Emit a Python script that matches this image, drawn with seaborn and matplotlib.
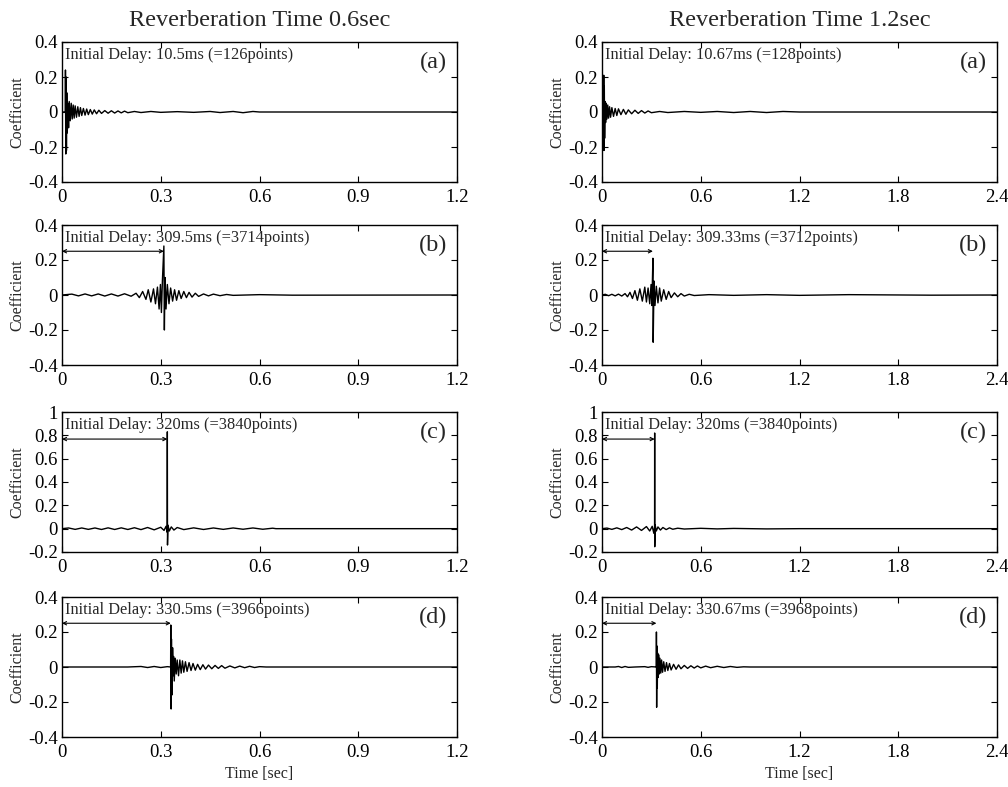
import matplotlib
matplotlib.use("Agg")
import matplotlib.pyplot as plt
import seaborn as sns

# Column titles, panel tags and delay notes
COLUMN_TITLES = ["Reverberation Time 0.6sec", "Reverberation Time 1.2sec"]
PANEL_TAGS = ["(a)", "(b)", "(c)", "(d)"]
NOTES_06 = [
    "Initial Delay: 10.5ms (=126points)",
    "Initial Delay: 309.5ms (=3714points)",
    "Initial Delay: 320ms (=3840points)",
    "Initial Delay: 330.5ms (=3966points)",
]
NOTES_12 = [
    "Initial Delay: 10.67ms (=128points)",
    "Initial Delay: 309.33ms (=3712points)",
    "Initial Delay: 320ms (=3840points)",
    "Initial Delay: 330.67ms (=3968points)",
]
# initial delay in sec (arrow length), None = no arrow
DELAYS_06 = [None, 0.3095, 0.320, 0.3305]
DELAYS_12 = [None, 0.30933, 0.320, 0.33067]

XTICKS_06 = [0, 0.3, 0.6, 0.9, 1.2]
XLABELS_06 = ["0", "0.3", "0.6", "0.9", "1.2"]
XTICKS_12 = [0, 0.6, 1.2, 1.8, 2.4]
XLABELS_12 = ["0", "0.6", "1.2", "1.8", "2.4"]
YTICKS_SMALL = [-0.4, -0.2, 0, 0.2, 0.4]
YLABELS_SMALL = ["-0.4", "-0.2", "0", "0.2", "0.4"]
YTICKS_BIG = [-0.2, 0, 0.2, 0.4, 0.6, 0.8, 1]
YLABELS_BIG = ["-0.2", "0", "0.2", "0.4", "0.6", "0.8", "1"]

# waveform peaks (time [sec], coefficient)
T06_A_TIME = [0, 0.0100, 0.0105, 0.0115, 0.0125, 0.0135, 0.0145, 0.016, 0.018, 0.020, 0.022, 0.025,
              0.028, 0.031, 0.034, 0.037, 0.040, 0.044, 0.048, 0.052, 0.056, 0.060, 0.065, 0.070,
              0.075, 0.080, 0.086, 0.092, 0.098, 0.105, 0.112, 0.12, 0.13, 0.14, 0.15, 0.16, 0.17,
              0.18, 0.19, 0.20, 0.22, 0.24, 0.27, 0.30, 0.35, 0.40, 0.45, 0.48, 0.52, 0.55, 0.58,
              0.60, 1.2]
T06_A_COEF = [0, 0, 0.24, -0.24, 0.20, -0.22, 0.11, -0.12, 0.05, -0.09, 0.06, -0.05,
              0.05, -0.04, 0.04, -0.035, 0.035, -0.03, 0.03, -0.025, 0.025, -0.02, 0.02, -0.018,
              0.017, -0.015, 0.014, -0.012, 0.012, -0.01, 0.01, -0.008, 0.008, -0.007, 0.007, -0.006, 0.006,
              -0.005, 0.005, -0.004, 0.003, -0.003, 0.003, -0.002, 0.002, -0.002, 0.003, -0.003, 0.003, -0.004, 0.003,
              0, 0]

T06_B_TIME = [0, 0.03, 0.05, 0.07, 0.09, 0.11, 0.13, 0.15, 0.17, 0.19, 0.21, 0.225, 0.235, 0.245,
              0.255, 0.262, 0.27, 0.278, 0.284, 0.29, 0.295, 0.299, 0.302, 0.305, 0.3095, 0.311,
              0.313, 0.316, 0.32, 0.325, 0.33, 0.336, 0.342, 0.348, 0.355, 0.362, 0.37, 0.378,
              0.386, 0.395, 0.405, 0.415, 0.43, 0.445, 0.46, 0.48, 0.50, 0.52, 0.6, 0.7, 1.2]
T06_B_COEF = [0, 0.005, -0.005, 0.006, -0.005, 0.006, -0.006, 0.006, -0.006, 0.007, -0.007, 0.01, -0.015, 0.02,
              -0.025, 0.03, -0.04, 0.035, -0.05, 0.045, -0.08, 0.06, -0.1, 0.08, 0.28, -0.2,
              0.1, -0.08, 0.06, -0.05, 0.04, -0.035, 0.03, -0.03, 0.025, -0.02, 0.02, -0.015,
              0.015, -0.012, 0.01, -0.008, 0.006, -0.005, 0.005, -0.004, 0.003, -0.002, 0.002, -0.001, 0]

T06_C_TIME = [0, 0.02, 0.04, 0.06, 0.08, 0.10, 0.12, 0.14, 0.16, 0.18, 0.20, 0.22, 0.24, 0.26,
              0.28, 0.30, 0.31, 0.316, 0.3195, 0.32, 0.3205, 0.322, 0.326, 0.332, 0.34, 0.35,
              0.37, 0.40, 0.43, 0.46, 0.49, 0.52, 0.55, 0.58, 0.61, 0.64, 0.65, 1.2]
T06_C_COEF = [0, 0.006, -0.006, 0.006, -0.006, 0.006, -0.007, 0.007, -0.007, 0.007, -0.007, 0.008, -0.008, 0.01,
              -0.01, 0.012, -0.015, 0.02, -0.03, 0.83, -0.14, 0.03, -0.02, 0.015, -0.012, 0.01,
              -0.008, 0.007, -0.007, 0.006, -0.006, 0.006, -0.005, 0.006, -0.005, 0.004, 0, 0]

T06_D_TIME = [0, 0.2, 0.24, 0.26, 0.28, 0.30, 0.32, 0.330, 0.3305, 0.3315, 0.3325, 0.334, 0.336,
              0.338, 0.339, 0.341, 0.344, 0.347, 0.350, 0.354, 0.358, 0.362, 0.366, 0.370, 0.375,
              0.380, 0.386, 0.392, 0.398, 0.405, 0.412, 0.42, 0.428, 0.436, 0.445, 0.455, 0.465,
              0.475, 0.485, 0.495, 0.51, 0.525, 0.54, 0.555, 0.57, 0.585, 0.60, 0.62, 1.2]
T06_D_COEF = [0, 0, 0.003, -0.003, 0.003, -0.003, 0.002, 0, 0.24, -0.24, 0.16, -0.16, 0.11,
              -0.05, 0.06, -0.08, 0.05, -0.04, 0.04, -0.05, 0.04, -0.035, 0.035, -0.03, 0.03,
              -0.025, 0.025, -0.02, 0.02, -0.018, 0.015, -0.015, 0.013, -0.012, 0.011, -0.01, 0.009,
              -0.008, 0.008, -0.007, 0.006, -0.005, 0.005, -0.004, 0.004, -0.003, 0.002, 0, 0]

T12_A_TIME = [0, 0.010, 0.0107, 0.012, 0.014, 0.016, 0.019, 0.022, 0.026, 0.030, 0.035, 0.040,
              0.046, 0.052, 0.06, 0.07, 0.08, 0.09, 0.10, 0.115, 0.13, 0.145, 0.16, 0.18, 0.20,
              0.22, 0.24, 0.26, 0.28, 0.30, 0.35, 0.40, 0.5, 0.6, 0.7, 0.8, 0.9, 1.0, 1.1, 1.2, 2.4]
T12_A_COEF = [0, 0, 0.21, -0.22, 0.15, -0.15, 0.06, -0.06, 0.05, -0.04, 0.04, -0.035,
              0.03, -0.03, 0.025, -0.025, 0.02, -0.02, 0.018, -0.015, 0.015, -0.013, 0.012, -0.01, 0.01,
              -0.008, 0.008, -0.006, 0.006, -0.004, 0.003, -0.003, 0.003, -0.002, 0.003, -0.003, 0.003, -0.003, 0.003, 0, 0]

T12_B_TIME = [0, 0.02, 0.04, 0.06, 0.08, 0.10, 0.12, 0.14, 0.155, 0.17, 0.185, 0.20, 0.215, 0.23,
              0.245, 0.26, 0.27, 0.28, 0.29, 0.298, 0.303, 0.3093, 0.311, 0.316, 0.322, 0.33,
              0.34, 0.35, 0.36, 0.375, 0.39, 0.405, 0.42, 0.44, 0.46, 0.48, 0.50, 0.53, 0.56,
              0.65, 0.8, 1.0, 1.2, 1.5, 2.0, 2.4]
T12_B_COEF = [0, 0.004, -0.004, 0.004, -0.005, 0.005, -0.006, 0.008, -0.01, 0.015, -0.02, 0.025, -0.03, 0.035,
              -0.035, 0.045, -0.04, 0.04, -0.05, 0.06, -0.06, 0.21, -0.27, 0.08, -0.06, 0.05,
              -0.045, 0.04, -0.035, 0.03, -0.025, 0.02, -0.015, 0.012, -0.01, 0.008, -0.006, 0.004, -0.003,
              0.002, -0.002, 0.002, -0.002, 0.002, -0.001, 0]

T12_C_TIME = [0, 0.03, 0.06, 0.09, 0.12, 0.15, 0.18, 0.21, 0.24, 0.27, 0.29, 0.305, 0.315, 0.3195,
              0.32, 0.3205, 0.323, 0.33, 0.34, 0.355, 0.37, 0.39, 0.41, 0.43, 0.46, 0.5, 0.6,
              0.7, 0.8, 1.0, 1.2, 2.4]
T12_C_COEF = [0, 0.005, -0.006, 0.007, -0.008, 0.01, -0.012, 0.015, -0.015, 0.018, -0.02, 0.02, -0.04, 0.02,
              0.82, -0.155, 0.03, -0.02, 0.015, -0.012, 0.01, -0.008, 0.007, -0.005, 0.004, -0.003, 0.003,
              -0.002, 0.002, -0.002, 0, 0]

T12_D_TIME = [0, 0.08, 0.10, 0.12, 0.14, 0.16, 0.2, 0.26, 0.28, 0.30, 0.33, 0.3307, 0.332, 0.334,
              0.336, 0.338, 0.341, 0.344, 0.348, 0.352, 0.357, 0.362, 0.368, 0.375, 0.383, 0.392,
              0.40, 0.41, 0.42, 0.435, 0.45, 0.465, 0.48, 0.50, 0.52, 0.54, 0.56, 0.58, 0.60,
              0.63, 0.66, 0.70, 0.74, 0.78, 0.82, 0.86, 0.9, 2.4]
T12_D_COEF = [0, 0, 0.003, -0.003, 0.003, -0.002, 0, 0.002, -0.002, 0.002, 0, 0.20, -0.23, 0.12,
              -0.12, 0.08, -0.06, 0.07, -0.04, 0.05, -0.035, 0.04, -0.03, 0.03, -0.025, 0.025,
              -0.02, 0.02, -0.017, 0.015, -0.013, 0.012, -0.01, 0.009, -0.008, 0.007, -0.006, 0.006, -0.005,
              0.005, -0.004, 0.004, -0.003, 0.003, -0.002, 0.001, 0, 0]

WAVES_06 = [(T06_A_TIME, T06_A_COEF), (T06_B_TIME, T06_B_COEF),
            (T06_C_TIME, T06_C_COEF), (T06_D_TIME, T06_D_COEF)]
WAVES_12 = [(T12_A_TIME, T12_A_COEF), (T12_B_TIME, T12_B_COEF),
            (T12_C_TIME, T12_C_COEF), (T12_D_TIME, T12_D_COEF)]

sns.set_theme(style="ticks")
plt.rcParams["font.family"] = ["Liberation Serif", "DejaVu Serif"]
plt.rcParams["axes.linewidth"] = 1.0

fig = plt.figure(figsize=(10.08, 7.87), dpi=100)

col_left = [62 / 1008, 602 / 1008]
ax_w = 395 / 1008
ax_h = 140 / 787
row_bottom = [1 - 182 / 787, 1 - 365 / 787, 1 - 552 / 787, 1 - 737 / 787]

columns = [
    (WAVES_06, NOTES_06, DELAYS_06, XTICKS_06, XLABELS_06, 1.2),
    (WAVES_12, NOTES_12, DELAYS_12, XTICKS_12, XLABELS_12, 2.4),
]

for c, (waves, notes, delays, xticks, xlabels, xmax) in enumerate(columns):
    for r in range(4):
        ax = fig.add_axes([col_left[c], row_bottom[r], ax_w, ax_h])
        t, coef = waves[r]
        sns.lineplot(x=t, y=coef, ax=ax, sort=False, estimator=None,
                     color="black", linewidth=1.0)
        ax.set_xlim(0, xmax)
        ax.set_xticks(xticks)
        ax.set_xticklabels(xlabels)
        if r == 2:
            ax.set_ylim(-0.2, 1)
            ax.set_yticks(YTICKS_BIG)
            ax.set_yticklabels(YLABELS_BIG)
            arrow_y = 0.768
        else:
            ax.set_ylim(-0.4, 0.4)
            ax.set_yticks(YTICKS_SMALL)
            ax.set_yticklabels(YLABELS_SMALL)
            arrow_y = 0.25
        ax.tick_params(direction="in", top=True, right=True, length=4, width=0.8,
                       labelsize=13.5, colors="black")
        ax.tick_params(axis="x", pad=5)
        ax.tick_params(axis="y", pad=3)
        ax.set_ylabel("Coefficient", fontsize=11.5, labelpad=2)
        if r == 3:
            ax.set_xlabel("Time [sec]", fontsize=11.5, labelpad=4)
        else:
            ax.set_xlabel("")
        ax.text(0.008, 0.905, notes[r], transform=ax.transAxes, ha="left", va="center",
                fontsize=11.8)
        ax.text(0.975, 0.855, PANEL_TAGS[r], transform=ax.transAxes, ha="right", va="center",
                fontsize=17.5)
        if delays[r] is not None:
            ax.annotate("", xy=(delays[r], arrow_y), xytext=(0, arrow_y),
                        arrowprops=dict(arrowstyle="<->", lw=0.8, color="black",
                                        shrinkA=0, shrinkB=0, mutation_scale=6))
        for sp in ax.spines.values():
            sp.set_color("black")

    fig.text(col_left[c] + ax_w / 2, 1 - 21 / 787, COLUMN_TITLES[c],
             ha="center", va="center", fontsize=17.5)

fig.savefig("out.png", dpi=100)
plt.close(fig)
